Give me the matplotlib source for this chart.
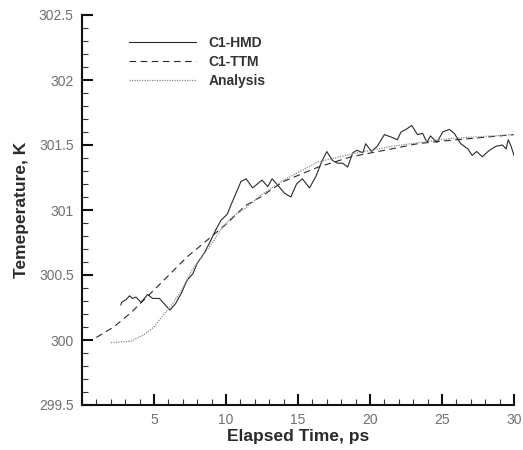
import matplotlib
matplotlib.use("Agg")
import matplotlib.pyplot as plt
from matplotlib.ticker import MultipleLocator

plt.rcParams['font.family'] = ['Liberation Sans', 'DejaVu Sans']

# C1-HMD (simulation, noisy)
hmd_t = [2.7, 2.75, 3.06, 3.3, 3.5, 3.75, 4.1, 4.56, 4.9, 5.37, 5.7, 6.1, 6.5, 6.9, 7.3, 7.7,
         8.0, 8.5, 8.96, 9.3, 9.65, 10.1, 10.35, 10.7, 11.04, 11.4, 11.85, 12.5, 12.9, 13.2,
         13.6, 14.05, 14.5, 14.9, 15.3, 15.8, 16.25, 16.6, 17.0, 17.4, 17.75, 18.1, 18.45,
         18.8, 19.1, 19.5, 19.7, 20.1, 20.5, 21.0, 21.5, 21.9, 22.15, 22.5, 22.9, 23.3,
         23.65, 23.96, 24.2, 24.65, 25.05, 25.5, 25.85, 26.3, 26.8, 27.1, 27.4, 27.8, 28.3,
         28.75, 29.2, 29.45, 29.6, 29.8, 30.0]
hmd_T = [300.27, 300.29, 300.31, 300.34, 300.32, 300.33, 300.29, 300.35, 300.32, 300.32,
         300.28, 300.23, 300.28, 300.36, 300.46, 300.51, 300.59, 300.67, 300.77, 300.85,
         300.92, 300.97, 301.04, 301.13, 301.22, 301.24, 301.17, 301.23, 301.18, 301.24,
         301.19, 301.13, 301.10, 301.20, 301.24, 301.17, 301.26, 301.36, 301.45, 301.38,
         301.36, 301.36, 301.33, 301.44, 301.46, 301.44, 301.51, 301.45, 301.49, 301.58,
         301.56, 301.54, 301.60, 301.62, 301.65, 301.58, 301.59, 301.52, 301.57, 301.52,
         301.60, 301.62, 301.59, 301.51, 301.47, 301.42, 301.45, 301.41, 301.46, 301.49,
         301.50, 301.47, 301.54, 301.49, 301.42]

# C1-TTM (dashed)
ttm_t = [1.0, 2.2, 3.4, 4.5, 5.5, 6.4, 7.3, 8.5, 10.1, 11.3, 12.4, 14.0, 16.4, 18.7, 20.1,
         21.5, 23.3, 25.0, 27.0, 30.0]
ttm_T = [300.02, 300.10, 300.21, 300.33, 300.44, 300.54, 300.64, 300.75, 300.90, 301.03,
         301.10, 301.22, 301.33, 301.41, 301.44, 301.47, 301.51, 301.53, 301.55, 301.58]

# Analysis (dotted)
ana_t = [2.0, 3.4, 4.3, 5.0, 5.7, 6.3, 6.9, 7.6, 8.3, 9.0, 9.65, 10.35, 11.3, 12.5, 14.0,
         16.4, 18.7, 21.5, 25.6, 30.0]
ana_T = [299.98, 299.99, 300.04, 300.10, 300.20, 300.28, 300.38, 300.53, 300.64, 300.74,
         300.85, 300.94, 301.01, 301.12, 301.23, 301.37, 301.43, 301.49, 301.55, 301.58]

x_ticks = [5, 10, 15, 20, 25, 30]
y_ticks = [299.5, 300, 300.5, 301, 301.5, 302, 302.5]
y_tick_labels = ['299.5', '300', '300.5', '301', '301.5', '302', '302.5']

fig = plt.figure(figsize=(5.23, 4.5), dpi=100)
ax = fig.add_axes([82/523, 45/450, (514-82)/523, (405-15)/450])

ax.plot(hmd_t, hmd_T, color='#2a2a2a', lw=0.8, label='C1-HMD')
ax.plot(ttm_t, ttm_T, color='#2a2a2a', lw=0.8, dashes=(6, 4), label='C1-TTM')
ax.plot(ana_t, ana_T, color='#8a8a8a', lw=0.9, ls=(0, (1, 1)), label='Analysis')

ax.set_xlim(0, 30)
ax.set_ylim(299.5, 302.5)
ax.set_xticks(x_ticks)
ax.set_xticklabels([str(v) for v in x_ticks])
ax.set_yticks(y_ticks)
ax.set_yticklabels(y_tick_labels)
ax.xaxis.set_minor_locator(MultipleLocator(1))
ax.yaxis.set_minor_locator(MultipleLocator(0.1))

for s in ['top', 'right']:
    ax.spines[s].set_visible(False)
for s in ['left', 'bottom']:
    ax.spines[s].set_linewidth(1.5)
    ax.spines[s].set_color('#111111')

ax.tick_params(which='major', direction='in', length=8, width=1.5, color='#111111',
               labelsize=10, labelcolor='#707070', pad=6)
ax.tick_params(which='minor', direction='in', length=4, width=0.8, color='#333333')

ax.set_xlabel('Elapsed Time, ps', fontsize=12.5, fontweight='bold', color='#2a2a2a',
              labelpad=1)
ax.set_ylabel('Temeperature, K', fontsize=12.5, fontweight='bold', color='#2a2a2a',
              labelpad=7)

leg = ax.legend(loc='upper left', bbox_to_anchor=(0.08, 0.978), frameon=False,
                handlelength=4.8, handletextpad=0.9, labelspacing=0.35,
                prop={'size': 10, 'weight': 'bold'})
for t in leg.get_texts():
    t.set_color('#333333')

fig.savefig('out.png', dpi=100)
